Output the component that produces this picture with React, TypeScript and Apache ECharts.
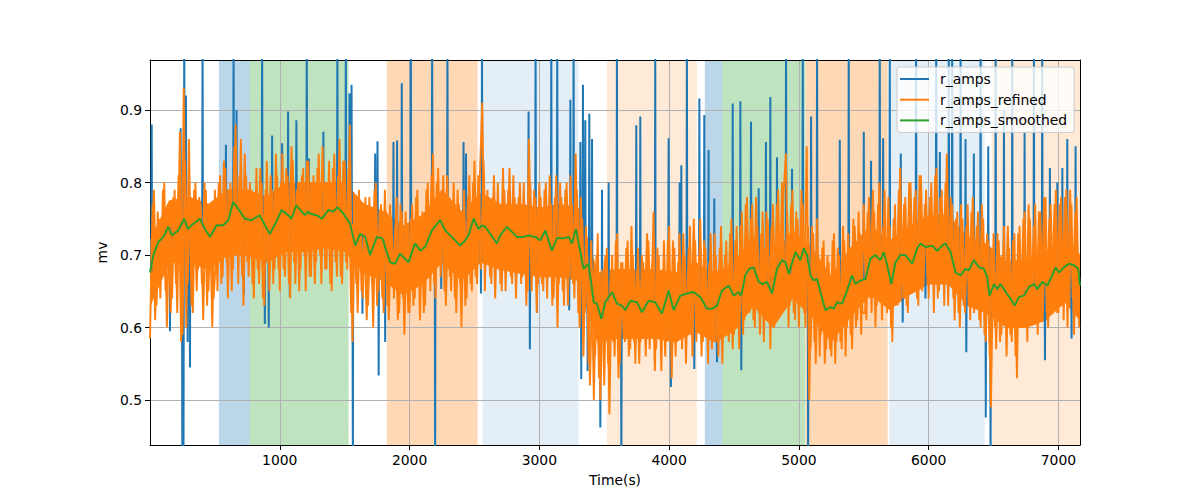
import React, { useEffect, useRef } from "react";
import * as echarts from "echarts";

// ---------- data ----------
const SAMPLE_STEP = 20; // seconds between refined samples of one trace
const X_MAX = 7166;
const Y_MIN = 0.438;
const Y_MAX = 0.969;

const xTickLabels = [1000, 2000, 3000, 4000, 5000, 6000, 7000];
const yTickLabels = [0.5, 0.6, 0.7, 0.8, 0.9];

// r_amps_refined, samples at t = 0, 20, 40, ...
const refinedValues = [
  0.585,0.77,0.61,0.76,0.64,0.79,0.65,0.77,0.62,0.78,0.66,0.81,0.58,0.93,0.60,0.86,0.63,0.79,0.65,0.78,0.66,0.80,0.63,0.77,0.60,
  0.79,0.65,0.81,0.67,0.82,0.64,0.80,0.68,0.88,0.66,0.86,0.63,0.81,0.67,0.79,0.64,0.82,0.66,0.80,0.63,0.83,0.65,0.79,0.68,0.81,
  0.65,0.84,0.67,0.81,0.64,0.83,0.66,0.80,0.68,0.82,0.65,0.83,0.67,0.81,0.69,0.84,0.66,0.80,0.68,0.83,0.65,0.84,0.67,0.86,0.66,
  0.83,0.68,0.88,0.58,0.77,0.62,0.76,0.64,0.78,0.63,0.75,0.60,0.80,0.65,0.77,0.62,0.76,0.61,0.75,0.64,0.78,0.62,0.76,0.59,0.74,
  0.62,0.77,0.64,0.79,0.61,0.76,0.63,0.80,0.65,0.84,0.64,0.82,0.67,0.81,0.63,0.78,0.65,0.80,0.62,0.77,0.60,0.79,0.64,0.81,0.65,
  0.83,0.66,0.80,0.91,0.65,0.79,0.67,0.78,0.64,0.80,0.66,0.82,0.65,0.79,0.67,0.81,0.64,0.78,0.66,0.80,0.63,0.86,0.65,0.79,0.62,
  0.80,0.66,0.79,0.64,0.81,0.63,0.78,0.60,0.80,0.65,0.79,0.63,0.81,0.66,0.84,0.62,0.78,0.56,0.74,0.55,0.72,0.50,0.70,0.53,0.68,
  0.52,0.71,0.48,0.70,0.56,0.73,0.55,0.69,0.58,0.72,0.57,0.70,0.55,0.71,0.58,0.69,0.56,0.72,0.59,0.76,0.57,0.70,0.54,0.72,0.58,
  0.74,0.53,0.71,0.58,0.73,0.57,0.70,0.59,0.74,0.56,0.72,0.60,0.75,0.58,0.71,0.55,0.73,0.59,0.70,0.56,0.74,0.60,0.72,0.58,0.75,
  0.59,0.74,0.57,0.76,0.61,0.78,0.62,0.77,0.60,0.74,0.59,0.76,0.61,0.75,0.57,0.77,0.63,0.79,0.62,0.78,0.84,0.60,0.77,0.62,0.76,
  0.60,0.79,0.62,0.85,0.50,0.74,0.58,0.75,0.56,0.71,0.55,0.70,0.57,0.72,0.55,0.71,0.58,0.74,0.56,0.73,0.59,0.75,0.60,0.76,0.59,
  0.77,0.61,0.78,0.62,0.76,0.63,0.80,0.61,0.79,0.62,0.74,0.58,0.77,0.63,0.82,0.64,0.78,0.62,0.80,0.65,0.79,0.63,0.81,0.66,0.79,
  0.64,0.80,0.62,0.82,0.65,0.79,0.63,0.84,0.66,0.77,0.61,0.76,0.60,0.75,0.62,0.77,0.61,0.78,0.63,0.76,0.60,0.75,0.58,0.72,0.49,
  0.73,0.57,0.72,0.59,0.74,0.56,0.71,0.58,0.73,0.53,0.74,0.60,0.76,0.58,0.75,0.61,0.77,0.59,0.76,0.62,0.78,0.60,0.77,0.63,0.79,
  0.62,0.78,0.61,0.79,0.63,0.77,0.59,0.78,0.60,
];

// r_amps_refined, the in-between samples at t = 10, 30, 50, ...
const refinedMidValues = [
  0.66,0.79,0.63,0.75,0.68,0.80,0.60,0.76,0.64,0.79,0.62,0.87,0.59,0.83,0.66,0.78,0.62,0.80,0.68,0.77,0.61,0.79,0.65,0.76,0.64,
  0.70,0.80,0.66,0.83,0.69,0.79,0.65,0.85,0.70,0.81,0.67,0.84,0.69,0.80,0.66,0.78,0.68,0.82,0.64,0.79,0.69,0.81,0.66,0.84,0.68,
  0.80,0.68,0.82,0.66,0.85,0.69,0.79,0.65,0.81,0.70,0.83,0.67,0.80,0.66,0.82,0.70,0.85,0.68,0.79,0.66,0.82,0.69,0.81,0.67,0.83,
  0.69,0.82,0.62,0.74,0.66,0.79,0.65,0.74,0.61,0.78,0.66,0.79,0.63,0.76,0.64,0.79,0.63,0.77,0.66,0.74,0.61,0.77,0.64,0.76,0.62,
  0.75,0.63,0.78,0.66,0.75,0.62,0.79,0.67,0.81,0.66,0.80,0.69,0.78,0.65,0.81,0.67,0.77,0.64,0.79,0.66,0.76,0.63,0.78,0.66,0.80,
  0.67,0.81,0.68,0.83,0.70,0.78,0.66,0.81,0.68,0.77,0.65,0.79,0.68,0.82,0.66,0.78,0.69,0.80,0.67,0.77,0.65,0.80,0.68,0.78,0.66,
  0.78,0.65,0.80,0.67,0.77,0.64,0.81,0.66,0.78,0.63,0.80,0.67,0.77,0.64,0.79,0.60,0.75,0.62,0.70,0.52,0.68,0.56,0.73,0.50,0.66,
  0.70,0.55,0.68,0.58,0.72,0.53,0.69,0.59,0.71,0.56,0.74,0.58,0.68,0.55,0.70,0.60,0.73,0.57,0.69,0.54,0.71,0.59,0.68,0.56,0.72,
  0.58,0.72,0.56,0.69,0.60,0.73,0.55,0.71,0.59,0.75,0.58,0.70,0.56,0.72,0.60,0.69,0.57,0.73,0.58,0.71,0.55,0.70,0.59,0.73,0.57,
  0.72,0.60,0.74,0.59,0.77,0.63,0.75,0.61,0.78,0.62,0.73,0.58,0.76,0.64,0.74,0.60,0.77,0.62,0.80,0.64,0.76,0.63,0.79,0.61,0.75,
  0.64,0.77,0.60,0.74,0.57,0.73,0.55,0.70,0.59,0.72,0.57,0.69,0.56,0.73,0.58,0.70,0.57,0.72,0.60,0.71,0.57,0.74,0.61,0.73,0.62,
  0.62,0.76,0.64,0.79,0.60,0.77,0.65,0.74,0.63,0.78,0.60,0.75,0.64,0.79,0.66,0.77,0.63,0.80,0.66,0.78,0.64,0.81,0.65,0.77,0.67,
  0.78,0.66,0.81,0.64,0.78,0.66,0.80,0.63,0.78,0.64,0.75,0.62,0.77,0.63,0.74,0.64,0.76,0.62,0.74,0.61,0.77,0.59,0.73,0.56,0.70,
  0.60,0.73,0.58,0.70,0.61,0.74,0.59,0.72,0.56,0.73,0.61,0.75,0.60,0.77,0.63,0.74,0.61,0.76,0.63,0.78,0.62,0.75,0.64,0.77,0.62,
  0.77,0.63,0.78,0.60,0.79,0.64,0.76,0.62,
];

// dense core of r_amps_refined (where its samples overlap into a solid band)
const coreTimes = [
  0,150,300,450,600,750,900,1050,1200,1350,1500,1650,1800,1950,2100,2250,2400,2550,2700,2850,3000,3150,3300,3450,3600,
  3750,3900,4050,4200,4350,4500,4650,4800,4950,5100,5250,5400,5550,5700,5850,6000,6150,6300,6450,6600,6750,6900,7050,7166,
];
const coreLow = [
  0.63,0.69,0.69,0.68,0.70,0.70,0.69,0.705,0.705,0.71,0.705,0.675,0.665,0.645,0.66,0.69,0.665,0.69,0.68,0.675,0.67,0.67,0.665,0.58,0.585,
  0.585,0.585,0.58,0.595,0.58,0.595,0.63,0.60,0.64,0.615,0.58,0.615,0.645,0.625,0.645,0.66,0.66,0.63,0.62,0.60,0.60,0.61,0.635,0.61,
];
const coreHigh = [
  0.72,0.775,0.78,0.77,0.79,0.79,0.78,0.80,0.80,0.80,0.80,0.77,0.76,0.74,0.755,0.79,0.76,0.785,0.77,0.77,0.765,0.77,0.765,0.675,0.68,
  0.68,0.68,0.675,0.69,0.675,0.69,0.725,0.695,0.735,0.71,0.67,0.71,0.74,0.72,0.74,0.755,0.755,0.725,0.715,0.69,0.695,0.705,0.725,0.70,
];

// r_amps_smoothed
const smoothTimes = [
  0,26,64,103,141,167,218,264,290,320,385,423,462,513,564,603,641,679,731,782,846,885,923,974,1013,1064,1090,1128,1167,1195,1218,
  1234,1285,1324,1375,1414,1444,1491,1542,1581,1619,1658,1696,1748,1791,1850,1889,1927,1992,2043,2082,2120,2172,2236,2274,2326,2390,
  2429,2455,2493,2532,2558,2583,2622,2673,2699,2750,2789,2827,2879,2917,2969,3007,3046,3097,3136,3187,3226,3251,3282,3316,3341,3380,
  3419,3444,3478,3508,3560,3598,3637,3662,3701,3752,3791,3842,3893,3945,3996,4035,4086,4137,4189,4240,4292,4330,4369,4407,4459,4497,
  4536,4556,4587,4618,4651,4690,4721,4754,4793,4831,4870,4896,4922,4973,5012,5037,5063,5089,5114,5140,5166,5204,5243,5269,5294,5333,
  5371,5410,5436,5474,5513,5551,5590,5628,5654,5680,5713,5744,5783,5821,5873,5911,5937,5975,6027,6065,6104,6130,6169,6207,6246,6284,
  6310,6348,6387,6426,6451,6469,6503,6528,6554,6593,6631,6662,6695,6734,6773,6811,6837,6875,6914,6952,6978,7004,7042,7081,7119,7153,7166,
];
const smoothValues = [
  0.676,0.70,0.718,0.725,0.739,0.727,0.734,0.75,0.736,0.741,0.75,0.736,0.725,0.741,0.741,0.748,0.773,0.764,0.75,0.748,0.755,0.741,0.729,0.746,0.762,0.755,0.75,0.769,0.76,0.755,0.76,
  0.757,0.755,0.75,0.762,0.76,0.766,0.757,0.743,0.713,0.729,0.725,0.70,0.725,0.723,0.69,0.688,0.702,0.69,0.716,0.706,0.711,0.734,0.748,0.734,0.725,0.713,
  0.72,0.728,0.75,0.736,0.741,0.739,0.729,0.716,0.727,0.739,0.732,0.725,0.725,0.727,0.725,0.72,0.734,0.706,0.723,0.723,0.725,0.716,0.736,0.704,0.681,0.688,
  0.635,0.633,0.612,0.635,0.649,0.633,0.63,0.624,0.637,0.635,0.621,0.637,0.635,0.619,0.651,0.624,0.644,0.647,0.649,0.642,0.626,0.626,0.63,0.651,0.658,0.644,
  0.649,0.644,0.672,0.681,0.683,0.663,0.66,0.663,0.647,0.681,0.693,0.69,0.674,0.704,0.693,0.709,0.70,0.672,0.665,0.667,0.649,0.624,0.628,0.626,0.635,0.633,
  0.651,0.672,0.66,0.665,0.667,0.695,0.70,0.693,0.704,0.686,0.66,0.69,0.70,0.70,0.688,0.709,0.716,0.711,0.713,0.706,0.713,0.716,0.704,0.676,0.672,0.681,
  0.679,0.693,0.683,0.681,0.67,0.644,0.66,0.653,0.66,0.649,0.64,0.63,0.642,0.644,0.656,0.66,0.653,0.663,0.658,0.672,0.683,0.676,0.683,0.688,0.686,0.681,0.658,
];

// r_amps outliers (the raw series equals the refined one elsewhere)
const spikeTimes = [
  13,154,236,249,258,264,277,290,308,405,585,644,667,723,864,885,915,941,1018,1064,1077,1128,1208,1224,
  1336,1444,1509,1537,1553,1563,1637,1735,1753,1762,1812,1876,1904,1940,2010,2174,2197,2244,2292,2416,2435,
  2550,2558,2917,2927,2971,2982,3092,3138,3230,3239,3264,3316,3323,3336,3354,3372,3385,3406,3470,3483,3534,3598,3632,
  3747,3778,3893,3996,4014,4081,4094,4137,4194,4233,4271,4304,4348,4369,4490,4549,4556,4631,4690,4746,4780,4831,4901,
  4947,5030,5071,5094,5140,5315,5384,5500,5556,5623,5649,5700,5785,5800,5903,5975,6058,6086,6155,
  6181,6246,6284,6290,6348,6400,6440,6459,6477,6516,6580,6644,6739,6811,6875,6896,6934,6991,7030,7068,7101,7132,
];
const spikeValues = [
  0.88,0.595,0.875,0.40,0.40,1.0,0.92,0.58,0.545,1.0,0.852,1.0,0.90,0.645,1.0,0.605,0.60,0.865,0.854,0.898,0.642,0.886,1.0,0.833,
  0.87,1.0,1.0,0.923,0.935,0.40,0.619,0.84,0.857,0.534,0.58,0.856,0.858,0.937,1.0,1.0,0.40,0.653,1.0,0.856,0.84,
  0.647,1.0,0.898,0.57,1.0,0.62,1.0,1.0,0.624,0.914,1.0,0.856,0.529,0.935,0.886,0.54,0.895,0.86,0.462,0.79,0.80,1.0,0.40,
  0.879,0.891,1.0,0.861,0.518,0.80,0.824,1.0,0.543,0.916,0.893,0.845,0.778,0.552,0.909,0.912,0.541,0.884,0.792,0.856,0.918,0.835,1.0,
  0.819,1.0,0.40,0.891,1.0,0.859,1.0,0.87,0.83,1.0,0.861,1.0,0.84,0.607,1.0,0.64,1.0,0.842,1.0,
  1.0,1.0,0.86,0.566,0.84,1.0,0.476,0.85,0.40,1.0,0.90,1.0,0.87,1.0,1.0,0.555,0.82,0.80,0.82,0.86,0.585,0.85,
];

// shaded periods
const spanStarts = [531, 770, 1825, 2562, 3520, 4275, 4411, 5052, 5697, 6485];
const spanEnds = [770, 1530, 2524, 3302, 4213, 4411, 5050, 5684, 6431, 7166];
const spanKinds = ["blue", "green", "orange", "lightBlue", "lightOrange", "blue", "green", "orange", "lightBlue", "lightOrange"];

const SERIES_NAMES = ["r_amps", "r_amps_refined", "r_amps_smoothed"];

// ---------- styles ----------
const COLORS = ["#1f77b4", "#ff7f0e", "#2ca02c"];
const SPAN_COLORS: Record<string, string> = {
  blue: "rgba(31,119,180,0.3)",
  green: "rgba(44,160,44,0.3)",
  orange: "rgba(255,127,14,0.3)",
  lightBlue: "rgba(31,119,180,0.12)",
  lightOrange: "rgba(255,127,14,0.16)",
};
const FONT = "DejaVu Sans";
const FS = 13.9;

function nearestSmooth(t: number): number {
  let best = 0;
  for (let i = 1; i < smoothTimes.length; i++) {
    if (Math.abs(smoothTimes[i] - t) < Math.abs(smoothTimes[best] - t)) best = i;
  }
  return smoothValues[best];
}

export default function App() {
  const ref = useRef<HTMLDivElement>(null);

  useEffect(() => {
    if (!ref.current) return;
    const chart = echarts.init(ref.current, undefined, { renderer: "svg" });

    const refinedData = refinedValues.map((v, i) => [i * SAMPLE_STEP, v]);
    const refinedMidData = refinedMidValues.map((v, i) => [i * SAMPLE_STEP + SAMPLE_STEP / 2, v]);
    const smoothData = smoothTimes.map((t, i) => [t, smoothValues[i]]);
    const rawData: any[] = [];
    spikeTimes.forEach((t, i) => {
      const base = nearestSmooth(t);
      rawData.push([t - 3, base], [t, spikeValues[i]], [t + 3, base], [t + 3.5, "-"]);
    });
    const areas = spanStarts.map((s, i) => [
      { xAxis: s, itemStyle: { color: SPAN_COLORS[spanKinds[i]] } },
      { xAxis: spanEnds[i] },
    ]);

    const labelStyle = { color: "#000", fontSize: FS, fontFamily: FONT };
    const refinedLine = {
      type: "line",
      showSymbol: false,
      color: COLORS[1],
      lineStyle: { width: 1.9, color: COLORS[1] },
      z: 3,
      silent: true,
    };

    chart.setOption({
      animation: false,
      backgroundColor: "#fff",
      grid: { left: 150, top: 60, width: 930, height: 385, show: false },
      legend: {
        orient: "vertical",
        left: 897,
        top: 67,
        data: SERIES_NAMES.map((n) => ({ name: n, icon: "rect" })),
        itemWidth: 29,
        itemHeight: 2,
        itemGap: 6.7,
        padding: [5, 7, 5, 3],
        backgroundColor: "rgba(255,255,255,0.8)",
        borderColor: "#cccccc",
        borderWidth: 1,
        borderRadius: 3,
        textStyle: { ...labelStyle, lineHeight: 14, padding: [0, 0, 0, 6] },
        z: 10,
      },
      xAxis: [
        {
          type: "value",
          min: 0,
          max: X_MAX,
          interval: 1000,
          position: "bottom",
          z: 2,
          name: "Time(s)",
          nameLocation: "middle",
          nameGap: 28,
          nameTextStyle: labelStyle,
          axisLine: { show: true, onZero: false, lineStyle: { color: "#000", width: 1 } },
          axisTick: { show: true, length: 5, lineStyle: { color: "#000" }, customValues: xTickLabels },
          axisLabel: {
            ...labelStyle,
            margin: 8,
            customValues: xTickLabels,
            formatter: (v: number) => (xTickLabels.indexOf(v) >= 0 ? String(v) : ""),
          },
          splitLine: { show: true, lineStyle: { color: "#b0b0b0", width: 1 } },
        },
        {
          type: "value",
          min: 0,
          max: X_MAX,
          position: "top",
          z: 2,
          axisLine: { show: true, onZero: false, lineStyle: { color: "#000", width: 1 } },
          axisTick: { show: false },
          axisLabel: { show: false },
          splitLine: { show: false },
        },
      ],
      yAxis: [
        {
          type: "value",
          min: Y_MIN,
          max: Y_MAX,
          splitNumber: 5,
          position: "left",
          z: 2,
          name: "mv",
          nameLocation: "middle",
          nameGap: 36,
          nameTextStyle: labelStyle,
          axisLine: { show: true, onZero: false, lineStyle: { color: "#000", width: 1 } },
          axisTick: { show: true, length: 5, lineStyle: { color: "#000" }, customValues: yTickLabels },
          axisLabel: {
            ...labelStyle,
            margin: 8,
            customValues: yTickLabels,
            formatter: (v: number) =>
              Math.abs(v * 10 - Math.round(v * 10)) < 1e-6 ? v.toFixed(1) : "",
          },
          splitLine: { show: true, lineStyle: { color: "#b0b0b0", width: 1 } },
        },
        {
          type: "value",
          min: Y_MIN,
          max: Y_MAX,
          position: "right",
          z: 2,
          axisLine: { show: true, onZero: false, lineStyle: { color: "#000", width: 1 } },
          axisTick: { show: false },
          axisLabel: { show: false },
          splitLine: { show: false },
        },
      ],
      series: [
        {
          name: "spans",
          type: "line",
          data: [],
          z: 1,
          silent: true,
          markArea: { silent: true, data: areas },
        },
        {
          name: SERIES_NAMES[0],
          type: "line",
          data: rawData,
          showSymbol: false,
          connectNulls: false,
          color: COLORS[0],
          lineStyle: { width: 2, color: COLORS[0] },
          z: 3,
          silent: true,
        },
        {
          name: "refined_core",
          type: "custom",
          data: [0],
          z: 3,
          silent: true,
          clip: true,
          renderItem: (_params: any, api: any) => {
            const pts: number[][] = [];
            coreTimes.forEach((t, i) => pts.push(api.coord([t, coreHigh[i]])));
            for (let i = coreTimes.length - 1; i >= 0; i--) pts.push(api.coord([coreTimes[i], coreLow[i]]));
            return {
              type: "polygon",
              shape: { points: pts },
              style: { fill: COLORS[1], stroke: COLORS[1], lineWidth: 1 },
            };
          },
        },
        { ...refinedLine, name: SERIES_NAMES[1], data: refinedMidData },
        { ...refinedLine, name: SERIES_NAMES[1], data: refinedData },
        {
          name: SERIES_NAMES[2],
          type: "line",
          data: smoothData,
          showSymbol: false,
          color: COLORS[2],
          lineStyle: { width: 2, color: COLORS[2] },
          z: 3,
          silent: true,
        },
      ],
    });

    return () => chart.dispose();
  }, []);

  return (
    <div
      ref={ref}
      style={{ position: "fixed", left: 0, top: 0, width: 1200, height: 500, background: "#fff" }}
    />
  );
}
